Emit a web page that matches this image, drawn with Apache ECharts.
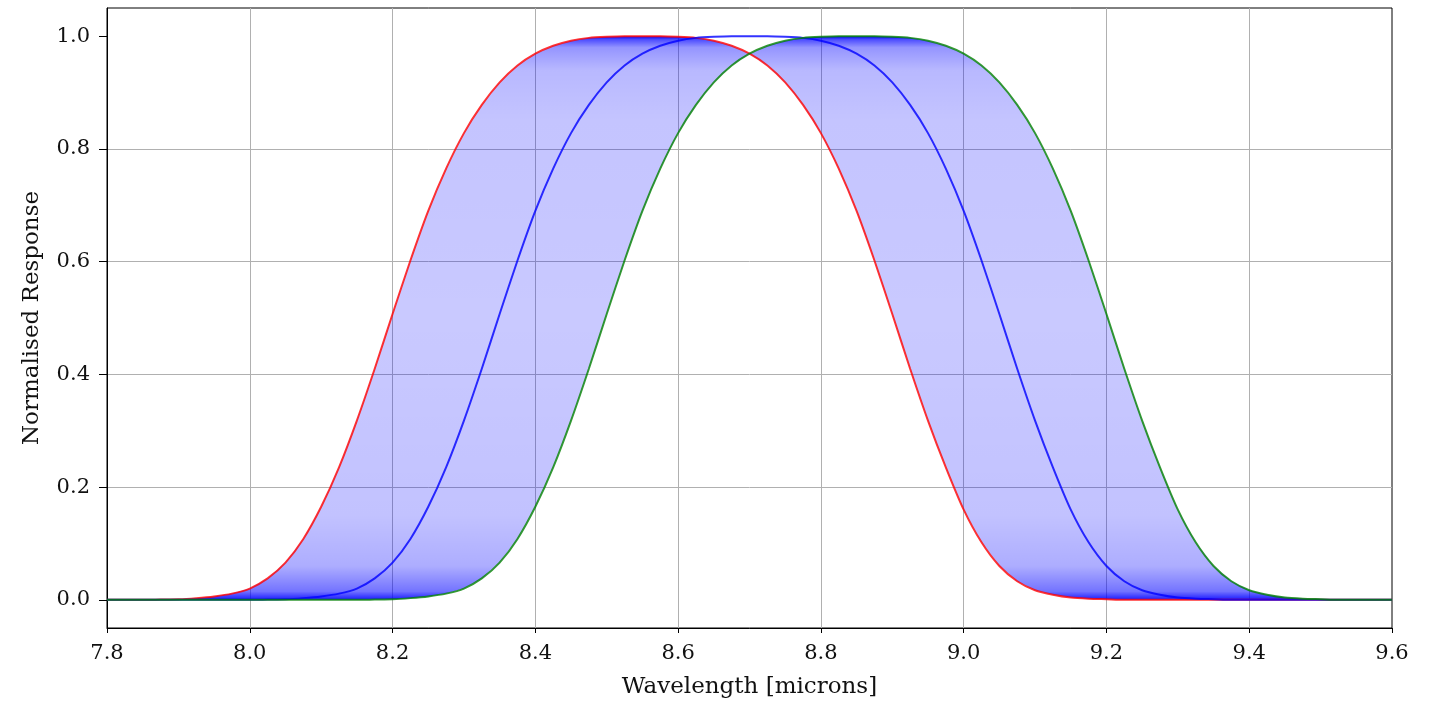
<!DOCTYPE html>
<html>
<head>
<meta charset="utf-8">
<script src="https://cdn.jsdelivr.net/npm/echarts@6/dist/echarts.min.js"></script>
<style>
  html, body { margin: 0; padding: 0; background: #fff; }
  #chart { width: 1437px; height: 702px; }
</style>
</head>
<body>
<div id="chart"></div>
<script>
// wavelength grid (microns)
var wavelength = [
  7.800, 7.825, 7.850, 7.875, 7.900, 7.925, 7.950, 7.975, 8.000, 8.025,
  8.050, 8.075, 8.100, 8.125, 8.150, 8.175, 8.200, 8.225, 8.250, 8.275,
  8.300, 8.325, 8.350, 8.375, 8.400, 8.425, 8.450, 8.475, 8.500, 8.525,
  8.550, 8.575, 8.600, 8.625, 8.650, 8.675, 8.700, 8.725, 8.750, 8.775,
  8.800, 8.825, 8.850, 8.875, 8.900, 8.925, 8.950, 8.975, 9.000, 9.025,
  9.050, 9.075, 9.100, 9.125, 9.150, 9.175, 9.200, 9.225, 9.250, 9.275,
  9.300, 9.325, 9.350, 9.375, 9.400, 9.425, 9.450, 9.475, 9.500, 9.525,
  9.550, 9.575, 9.600
];

// red curve (shortest shift)
var redResponse = [
  0, 0, 0, 0.0005, 0.001, 0.003, 0.006, 0.011, 0.020, 0.038,
  0.066, 0.108, 0.165, 0.235, 0.318, 0.410, 0.507, 0.602, 0.690, 0.765,
  0.828, 0.878, 0.918, 0.948, 0.969, 0.983, 0.992, 0.997, 0.999, 1.000,
  1.000, 1.000, 0.999, 0.997, 0.992, 0.983, 0.969, 0.948, 0.918, 0.878,
  0.828, 0.765, 0.690, 0.602, 0.507, 0.410, 0.318, 0.235, 0.160, 0.102,
  0.060, 0.033, 0.017, 0.009, 0.004, 0.002, 0.001, 0, 0, 0,
  0, 0, 0, 0, 0, 0, 0, 0, 0, 0,
  0, 0, 0
];

// blue curve (nominal)
var blueResponse = [
  0, 0, 0, 0, 0, 0, 0, 0, 0, 0.0005,
  0.001, 0.003, 0.006, 0.011, 0.020, 0.038, 0.066, 0.108, 0.165, 0.235,
  0.318, 0.410, 0.507, 0.602, 0.690, 0.765, 0.828, 0.878, 0.918, 0.948,
  0.969, 0.983, 0.992, 0.997, 0.999, 1.000, 1.000, 1.000, 0.999, 0.997,
  0.992, 0.983, 0.969, 0.948, 0.918, 0.878, 0.828, 0.765, 0.690, 0.602,
  0.507, 0.410, 0.318, 0.235, 0.160, 0.102, 0.060, 0.033, 0.017, 0.009,
  0.004, 0.002, 0.001, 0, 0, 0, 0, 0, 0, 0,
  0, 0, 0
];

// green curve (longest shift)
var greenResponse = [
  0, 0, 0, 0, 0, 0, 0, 0, 0, 0,
  0, 0, 0, 0, 0, 0.0005, 0.001, 0.003, 0.006, 0.011,
  0.020, 0.038, 0.066, 0.108, 0.165, 0.235, 0.318, 0.410, 0.507, 0.602,
  0.690, 0.765, 0.828, 0.878, 0.918, 0.948, 0.969, 0.983, 0.992, 0.997,
  0.999, 1.000, 1.000, 1.000, 0.999, 0.997, 0.992, 0.983, 0.969, 0.948,
  0.918, 0.878, 0.828, 0.765, 0.690, 0.602, 0.507, 0.410, 0.318, 0.235,
  0.160, 0.102, 0.060, 0.033, 0.017, 0.009, 0.004, 0.002, 0.001, 0,
  0, 0, 0
];

var yTicks = [0, 0.2, 0.4, 0.6, 0.8, 1.0];

var pairs = function (ys) {
  return wavelength.map(function (x, i) { return [x, ys[i]]; });
};

// shaded envelope between red and green: [x, low, high]
var bandRows = wavelength.map(function (x, i) {
  return [x, Math.min(redResponse[i], greenResponse[i]), Math.max(redResponse[i], greenResponse[i])];
});

var font = 'DejaVu Serif';
var smoothing = 0.25;

var chart = echarts.init(document.getElementById('chart'), null, { renderer: 'canvas' });

var lineSeries = function (name, ys, color) {
  return {
    name: name,
    type: 'line',
    data: pairs(ys),
    showSymbol: false,
    smooth: smoothing,
    lineStyle: { color: color, width: 2 },
    itemStyle: { color: color },
    z: 5
  };
};

var renderBand = function (params, api) {
  if (params.dataIndex !== 0) {
    return null;
  }
  var upper = [], lower = [];
  for (var i = 0; i < bandRows.length; i++) {
    upper.push(api.coord([bandRows[i][0], bandRows[i][2]]));
    lower.unshift(api.coord([bandRows[i][0], bandRows[i][1]]));
  }
  var yTop = api.coord([wavelength[0], 1])[1];
  var yBottom = api.coord([wavelength[0], 0])[1];
  var fill = new echarts.graphic.LinearGradient(0, yTop, 0, yBottom, [
    { offset: 0, color: 'rgba(0,0,255,1)' },
    { offset: 0.006, color: 'rgba(0,0,255,0.7)' },
    { offset: 0.02, color: 'rgba(0,0,255,0.42)' },
    { offset: 0.06, color: 'rgba(0,0,255,0.28)' },
    { offset: 0.15, color: 'rgba(0,0,255,0.23)' },
    { offset: 0.5, color: 'rgba(0,0,255,0.21)' },
    { offset: 0.85, color: 'rgba(0,0,255,0.24)' },
    { offset: 0.94, color: 'rgba(0,0,255,0.32)' },
    { offset: 0.985, color: 'rgba(0,0,255,0.55)' },
    { offset: 1, color: 'rgba(0,0,255,0.9)' }
  ], true);
  return {
    type: 'polygon',
    shape: { points: upper.concat(lower) },
    style: { fill: fill, stroke: null }
  };
};

chart.setOption({
  animation: false,
  backgroundColor: '#fff',
  grid: {
    left: 107, right: 45, top: 8, bottom: 74,
    outerBoundsMode: 'none',
    containLabel: false,
    show: true, borderColor: '#000', borderWidth: 1, backgroundColor: 'transparent'
  },
  xAxis: {
    type: 'value',
    min: 7.8, max: 9.6, interval: 0.2,
    name: 'Wavelength [microns]',
    nameLocation: 'middle',
    nameGap: 48,
    nameTextStyle: { fontFamily: font, fontSize: 23, color: '#111' },
    axisLine: { show: true, onZero: false, lineStyle: { color: '#000', width: 1 } },
    axisTick: { show: true, length: 5, lineStyle: { color: '#000' } },
    axisLabel: {
      fontFamily: font, fontSize: 21, color: '#111', margin: 15,
      formatter: function (v) { return v.toFixed(1); }
    },
    splitLine: { show: true, showMinLine: false, showMaxLine: false, lineStyle: { color: '#b0b0b0', width: 1 } }
  },
  yAxis: {
    type: 'value',
    min: -0.05, max: 1.05,
    name: 'Normalised Response',
    nameLocation: 'middle',
    nameGap: 63,
    nameTextStyle: { fontFamily: font, fontSize: 23, color: '#111' },
    axisLine: { show: true, onZero: false, lineStyle: { color: '#000', width: 1 } },
    axisTick: { show: true, length: 8, customValues: yTicks, lineStyle: { color: '#000' } },
    axisLabel: {
      fontFamily: font, fontSize: 21, color: '#111', margin: 17,
      customValues: yTicks,
      formatter: function (v) { return v.toFixed(1); }
    },
    splitLine: { show: true, showMinLine: false, showMaxLine: false, lineStyle: { color: '#b0b0b0', width: 1 } }
  },
  series: [
    {
      name: 'band',
      type: 'custom',
      renderItem: renderBand,
      data: bandRows,
      encode: { x: 0, y: [1, 2] },
      clip: true,
      z: 2
    },
    lineSeries('red', redResponse, 'rgba(255,0,0,0.8)'),
    lineSeries('blue', blueResponse, 'rgba(0,0,255,0.8)'),
    lineSeries('green', greenResponse, 'rgba(0,128,0,0.8)')
  ]
});
</script>
</body>
</html>
